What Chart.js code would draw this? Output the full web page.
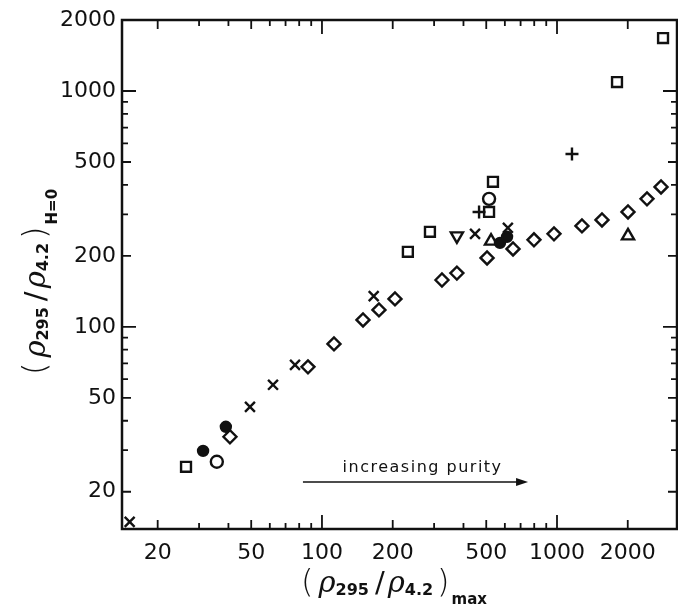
<!DOCTYPE html>
<html>
<head>
<meta charset="utf-8">
<script src="https://cdn.jsdelivr.net/npm/chart.js@4.4.0/dist/chart.umd.min.js"></script>
<style>
  html, body { margin: 0; padding: 0; background: #fff; }
  #wrap { width: 678px; height: 605px; }
</style>
</head>
<body>
<div id="wrap"><canvas id="chart" width="678" height="605"></canvas></div>
<script>
// points, [x = (rho295/rho4.2)max, y = (rho295/rho4.2)H=0]
const crossPts    = [[15.2, 14.9], [49.4, 45.8], [61.9, 56.8], [76.8, 69], [166, 135], [448, 248], [618, 263]];
const diamondPts  = [[40.6, 34.2], [87.2, 67.7], [112.5, 84.7], [149.5, 107], [174.8, 118], [204.5, 131.4],
                     [324, 158], [375, 169], [504, 196], [650, 214], [798, 234], [971, 248],
                     [1277, 268], [1554, 284], [2005, 307], [2415, 349], [2771, 392]];
const squarePts   = [[26.4, 25.5], [232, 208], [288, 253], [514, 307], [534, 412], [1800, 1091], [2826, 1677]];
const circlePts   = [[35.7, 26.8], [514, 349]];
const dotPts      = [[31.2, 29.8], [39, 37.7], [572, 227], [613, 241]];
const triUpPts    = [[524, 231], [2005, 243]];
const triDownPts  = [[375, 243]];
const plusPts     = [[466, 307], [1158, 541]];

const xTicks = [20, 30, 40, 50, 60, 70, 80, 90, 100, 200, 300, 400, 500, 600, 700, 800, 900, 1000, 2000];
const yTicks = [20, 30, 40, 50, 60, 70, 80, 90, 100, 200, 300, 400, 500, 600, 700, 800, 900, 1000, 2000];
const xLabels = [20, 50, 100, 200, 500, 1000, 2000];
const yLabels = [20, 50, 100, 200, 500, 1000, 2000];
const decades = [100, 1000];

const arrowFrom = [83, 22];
const arrowTo = [753, 22];
const noteAt = [268, 25.5];

const toXY = arr => arr.map(p => ({x: p[0], y: p[1]}));

function markerSet(data, style, r, filled, rot) {
  return {
    data: toXY(data),
    pointStyle: style,
    pointRadius: r,
    pointRotation: rot || 0,
    pointBorderWidth: 2.4,
    pointBorderColor: '#111',
    pointBackgroundColor: filled ? '#111' : 'rgba(255,255,255,0)',
    showLine: false
  };
}

function drawRich(ctx, parts, cx, baseY) {
  let total = 0;
  parts.forEach(p => { ctx.font = p.font; total += ctx.measureText(p.t).width + (p.gap || 0); });
  let x = cx - total / 2;
  parts.forEach(p => {
    ctx.font = p.font;
    ctx.fillText(p.t, x, baseY + (p.dy || 0));
    x += ctx.measureText(p.t).width + (p.gap || 0);
  });
}

function titleParts(sub) {
  return [
    {t: '(', font: '300 32px "DejaVu Sans"', gap: 5},
    {t: 'ρ', font: 'italic 29px "DejaVu Serif"'},
    {t: '295', font: 'bold 16px "DejaVu Sans"', dy: 3, gap: 6},
    {t: '/', font: '29px "DejaVu Sans"', gap: 3},
    {t: 'ρ', font: 'italic 29px "DejaVu Serif"'},
    {t: '4.2', font: 'bold 16px "DejaVu Sans"', dy: 3, gap: 4},
    {t: ')', font: '300 32px "DejaVu Sans"', gap: 2},
    {t: sub, font: 'bold 15px "DejaVu Sans"', dy: 12}
  ];
}

const framePlugin = {
  id: 'framePlugin',
  afterDraw(chart) {
    const {ctx, chartArea: a, scales: {x, y}} = chart;
    ctx.save();
    ctx.strokeStyle = '#111';
    ctx.lineWidth = 2.5;
    ctx.strokeRect(a.left, a.top, a.right - a.left, a.bottom - a.top);

    const len = (v, labels) => decades.includes(v) ? 14 : (labels.includes(v) ? 9 : 6);
    ctx.lineWidth = 1.8;
    ctx.beginPath();
    xTicks.forEach(v => {
      const px = x.getPixelForValue(v), l = len(v, xLabels);
      ctx.moveTo(px, a.bottom); ctx.lineTo(px, a.bottom - l);
      ctx.moveTo(px, a.top); ctx.lineTo(px, a.top + l);
    });
    yTicks.forEach(v => {
      const py = y.getPixelForValue(v), l = len(v, yLabels);
      ctx.moveTo(a.left, py); ctx.lineTo(a.left + l, py);
      ctx.moveTo(a.right, py); ctx.lineTo(a.right - l, py);
    });
    ctx.stroke();

    // increasing purity arrow
    const ax0 = x.getPixelForValue(arrowFrom[0]), ax1 = x.getPixelForValue(arrowTo[0]);
    const ay = y.getPixelForValue(arrowFrom[1]);
    ctx.lineWidth = 1.6;
    ctx.beginPath();
    ctx.moveTo(ax0, ay); ctx.lineTo(ax1 - 6, ay);
    ctx.stroke();
    ctx.fillStyle = '#111';
    ctx.beginPath();
    ctx.moveTo(ax1, ay); ctx.lineTo(ax1 - 12, ay - 4); ctx.lineTo(ax1 - 12, ay + 4);
    ctx.closePath(); ctx.fill();

    ctx.font = '16px "DejaVu Sans"';
    ctx.letterSpacing = '1.5px';
    ctx.textAlign = 'center';
    ctx.textBaseline = 'alphabetic';
    ctx.fillText('increasing purity', x.getPixelForValue(noteAt[0]), y.getPixelForValue(noteAt[1]) + 5);
    ctx.letterSpacing = '0px';

    // axis titles
    ctx.textAlign = 'left';
    drawRich(ctx, titleParts('max'), 394, 592);
    ctx.translate(45, 282);
    ctx.rotate(-Math.PI / 2);
    drawRich(ctx, titleParts('H=0'), 0, 0);
    ctx.restore();
  }
};

const tickFont = {family: '"DejaVu Sans"', size: 22};

new Chart(document.getElementById('chart'), {
  type: 'scatter',
  data: {
    datasets: [
      markerSet(diamondPts, 'rectRot', 6.5, false),
      markerSet(squarePts, 'rect', 7, false),
      markerSet(crossPts, 'crossRot', 7, false),
      markerSet(circlePts, 'circle', 6, false),
      markerSet(dotPts, 'circle', 5, true),
      markerSet(triUpPts, 'triangle', 7, false),
      markerSet(triDownPts, 'triangle', 7, false, 180),
      markerSet(plusPts, 'cross', 6.5, false)
    ]
  },
  options: {
    responsive: false,
    animation: false,
    layout: {autoPadding: false, padding: {top: 20, right: 1, left: 0, bottom: 0}},
    plugins: {legend: {display: false}, tooltip: {enabled: false}},
    scales: {
      x: {
        type: 'logarithmic',
        min: 14.1,
        max: 3240,
        grid: {display: false, drawTicks: false},
        border: {display: false},
        afterBuildTicks: s => { s.ticks = xTicks.map(v => ({value: v})); },
        afterFit: s => { s.height = 76; s.paddingLeft = 0; s.paddingRight = 0; },
        ticks: {
          autoSkip: false, maxRotation: 0, padding: 11, color: '#111', font: tickFont,
          callback: v => xLabels.includes(v) ? String(v) : ''
        }
      },
      y: {
        type: 'logarithmic',
        min: 13.9,
        max: 2000,
        grid: {display: false, drawTicks: false},
        border: {display: false},
        afterBuildTicks: s => { s.ticks = yTicks.map(v => ({value: v})); },
        afterFit: s => { s.width = 122; s.paddingTop = 0; s.paddingBottom = 0; },
        ticks: {
          autoSkip: false, padding: 6, color: '#111', font: tickFont,
          callback: v => yLabels.includes(v) ? String(v) : ''
        }
      }
    }
  },
  plugins: [framePlugin]
});
</script>
</body>
</html>
